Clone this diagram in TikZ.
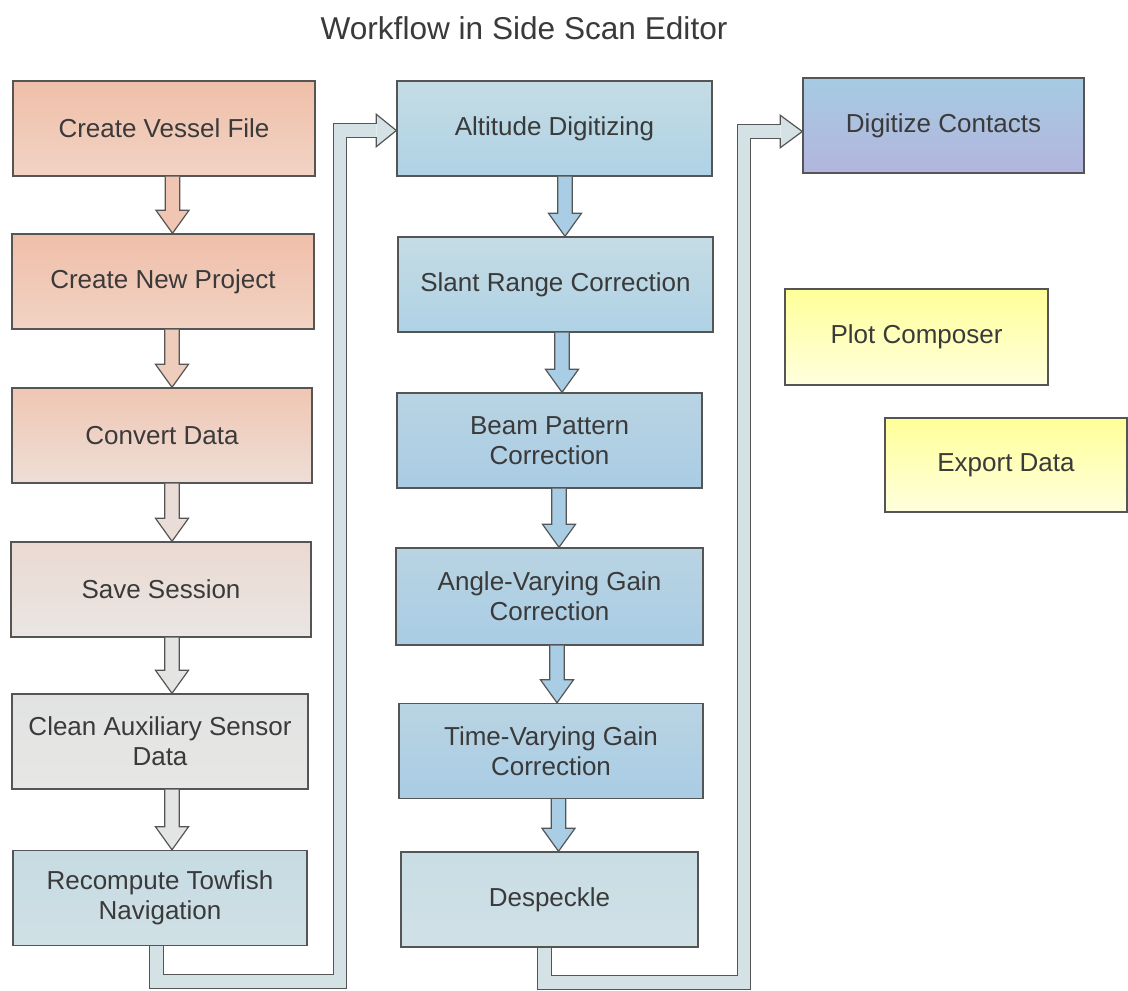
\documentclass[tikz,border=0pt]{standalone}
\usepackage{fontspec}
\setmainfont{Liberation Sans}
\usetikzlibrary{calc}

\definecolor{boxline}{HTML}{555555}
\definecolor{txt}{HTML}{3A3A3A}
\definecolor{orA}{HTML}{EFBFA8}
\definecolor{orB}{HTML}{F2D3C5}
\definecolor{cvA}{HTML}{EFC6B3}
\definecolor{cvB}{HTML}{EEDED7}
\definecolor{svA}{HTML}{EAD9D1}
\definecolor{svB}{HTML}{EAE6E3}
\definecolor{clA}{HTML}{E1E3E2}
\definecolor{clB}{HTML}{E7E7E5}
\definecolor{rcA}{HTML}{C6DBE3}
\definecolor{rcB}{HTML}{D0E0E5}
\definecolor{alA}{HTML}{C5DCE4}
\definecolor{alB}{HTML}{AFD2E5}
\definecolor{bmA}{HTML}{B9D4E3}
\definecolor{bmB}{HTML}{A9CCE4}
\definecolor{dsA}{HTML}{C9DDE5}
\definecolor{dsB}{HTML}{D0E1E6}
\definecolor{dgA}{HTML}{A6CBE3}
\definecolor{dgB}{HTML}{B3B5DD}
\definecolor{ylA}{HTML}{FFFF99}
\definecolor{ylB}{HTML}{FFFFDE}
\definecolor{arA}{HTML}{F0C6B2}
\definecolor{arB}{HTML}{EFCDBD}
\definecolor{arC}{HTML}{EADDD7}
\definecolor{arD}{HTML}{E4E4E2}
\definecolor{arE}{HTML}{E2E5E4}
\definecolor{arM}{HTML}{A9CDE4}
\definecolor{connfill}{HTML}{D4E2E6}

% block arrow from one box down to the next: [x shift]{from}{to}{fill}
\newcommand{\blockdown}[4][0]{%
  \filldraw[dnarrow, fill=#4] let \p1=($(#2.south)+(#1,0)$), \p2=(#3.north) in
    (\x1-3.6pt,\y1) -- (\x1-3.6pt,\y2+11.5pt) -- (\x1-8.25pt,\y2+11.5pt) -- (\x1,\y2)
    -- (\x1+8.25pt,\y2+11.5pt) -- (\x1+3.6pt,\y2+11.5pt) -- (\x1+3.6pt,\y1);}

\begin{document}
\begin{tikzpicture}[x=0.5pt, y=-0.5pt,
  box/.style={draw=boxline, line width=0.7pt, minimum height=47.5pt, inner sep=0pt,
    align=center, text=txt, font=\fontsize{13}{15}\selectfont},
  dnarrow/.style={draw=boxline, line width=0.6pt},
  conn/.style={draw=boxline, line width=0.6pt, double=connfill, double distance=6.2pt},
  connhead/.style={draw=boxline, line width=0.6pt, fill=connfill}]
\useasboundingbox (0,0) rectangle (1128,990);

\node[text=txt, font=\fontsize{15.8}{19}\selectfont] (title) at (524,28) {Workflow in Side Scan Editor};

% left column
\node[box, minimum width=151pt, top color=orA, bottom color=orB] (vessel) at (164,128.5) {Create Vessel File};
\node[box, minimum width=151pt, top color=orA, bottom color=orB] (project) at (163,281.5) {Create New Project};
\node[box, minimum width=150pt, top color=cvA, bottom color=cvB] (convert) at (162,435.5) {Convert Data};
\node[box, minimum width=150pt, top color=svA, bottom color=svB] (save) at (161,589.5) {Save Session};
\node[box, minimum width=148pt, top color=clA, bottom color=clB] (clean) at (160,741.5) {Clean Auxiliary Sensor\\Data};
\node[box, minimum width=147pt, top color=rcA, bottom color=rcB] (recomp) at (160,898) {Recompute Towfish\\Navigation};

% middle column
\node[box, minimum width=157.5pt, top color=alA, bottom color=alB] (altitude) at (554.5,128.5) {Altitude Digitizing};
\node[box, minimum width=157.5pt, top color=alA, bottom color=alB] (slant) at (555.5,284.5) {Slant Range Correction};
\node[box, minimum width=152.5pt, top color=bmA, bottom color=bmB] (beam) at (549.5,440.5) {Beam Pattern\\Correction};
\node[box, minimum width=153.5pt, minimum height=48.5pt, top color=bmA, bottom color=bmB] (angle) at (549.5,596.5) {Angle-Varying Gain\\Correction};
\node[box, minimum width=152pt, top color=bmA, bottom color=bmB] (timegain) at (551,751) {Time-Varying Gain\\Correction};
\node[box, minimum width=148.5pt, top color=dsA, bottom color=dsB] (despeckle) at (549.5,899.5) {Despeckle};

% right column
\node[box, minimum width=140.5pt, top color=dgA, bottom color=dgB] (digit) at (943.5,125.5) {Digitize Contacts};
\node[box, minimum width=131.5pt, minimum height=48pt, top color=ylA, bottom color=ylB] (plot) at (916.5,337) {Plot Composer};
\node[box, minimum width=121pt, minimum height=47pt, top color=ylA, bottom color=ylB] (export) at (1006,465) {Export Data};

% arrows down the columns
\blockdown[8.5]{vessel}{project}{arA}
\blockdown[9]{project}{convert}{arB}
\blockdown[10]{convert}{save}{arC}
\blockdown[11]{save}{clean}{arD}
\blockdown[12]{clean}{recomp}{arE}
\blockdown[10.5]{altitude}{slant}{arM}
\blockdown[6.5]{slant}{beam}{arM}
\blockdown[9.5]{beam}{angle}{arM}
\blockdown[7.5]{angle}{timegain}{arM}
\blockdown[7.5]{timegain}{despeckle}{arM}

% column to column
\coordinate (t1) at ($(altitude.west)+(0,2)$);
\draw[conn] ($(recomp.south)+(-3.5,0)$) |- (340,981.5) |- ($(t1)+(-20,0)$);
\filldraw[connhead] ($(t1)+(-20,-6.7)$) -- ++(0,-9.5) -- (t1) -- ($(t1)+(-20,16.2)$) -- ++(0,-9.5);

\coordinate (t2) at ($(digit.west)+(0,6)$);
\draw[conn] ($(despeckle.south)+(-5,0)$) |- (744,982.5) |- ($(t2)+(-22,0)$);
\filldraw[connhead] ($(t2)+(-22,-6.7)$) -- ++(0,-9.5) -- (t2) -- ($(t2)+(-22,16.2)$) -- ++(0,-9.5);
\end{tikzpicture}
\end{document}
